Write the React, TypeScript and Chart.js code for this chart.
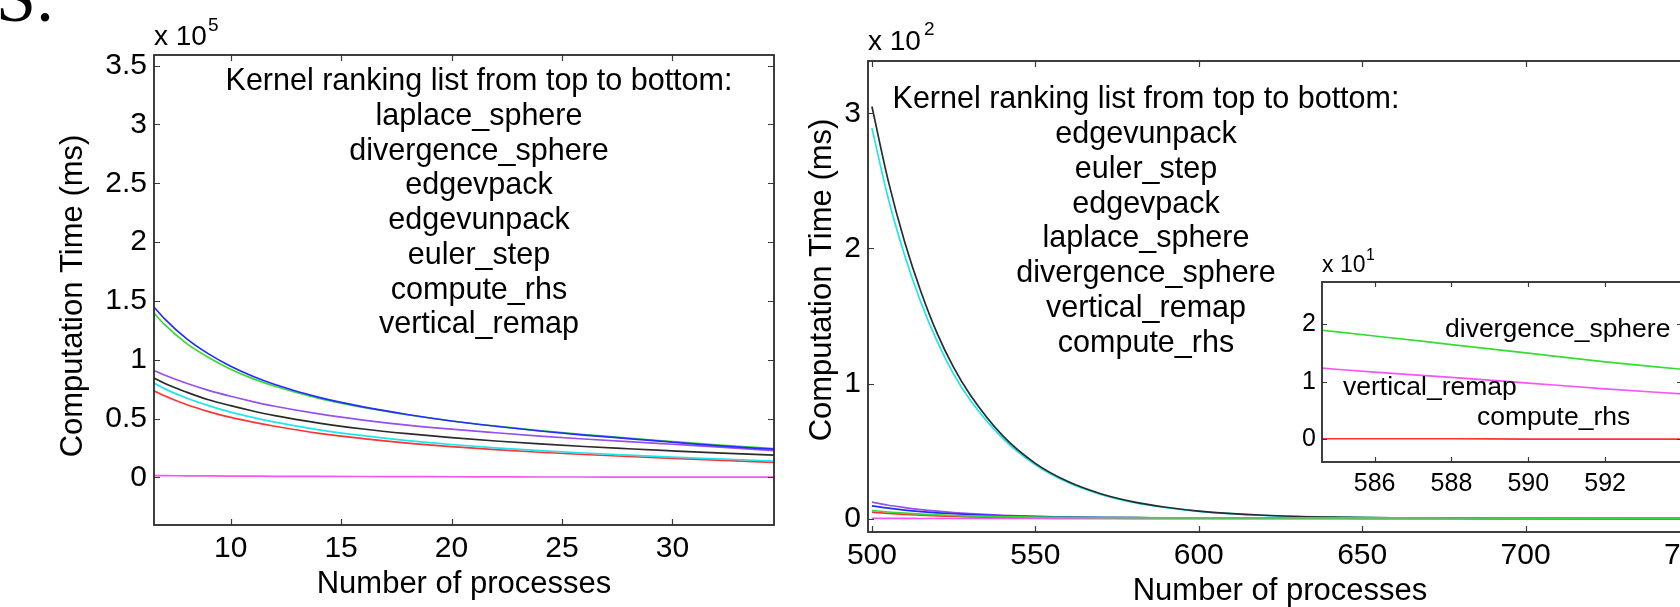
import React, { useEffect, useRef } from 'react';
import { Chart, registerables } from 'chart.js';
Chart.register(...registerables);

const SANS = '"Liberation Sans", Arial, Helvetica, sans-serif';
const SERIF = '"Liberation Serif", "DejaVu Serif", serif';

// ---------------- Left panel (values in units of 10^5 ms) ----------------
const leftX = [6.53, 7, 8, 9, 10, 11, 12, 14, 16, 18, 20, 22, 24, 26, 28, 30, 32, 34.6];
const leftBlue = [1.448, 1.35, 1.18, 1.05, 0.945, 0.86, 0.79, 0.68, 0.60, 0.535, 0.48, 0.435, 0.395, 0.36, 0.33, 0.30, 0.27, 0.24];
const leftGreen = [1.397, 1.30, 1.14, 1.02, 0.92, 0.84, 0.775, 0.672, 0.595, 0.533, 0.48, 0.437, 0.398, 0.365, 0.335, 0.305, 0.277, 0.246];
const leftPurple = [0.909, 0.87, 0.80, 0.74, 0.69, 0.645, 0.605, 0.54, 0.488, 0.445, 0.41, 0.38, 0.352, 0.327, 0.304, 0.282, 0.26, 0.228];
const leftBlack = [0.845, 0.80, 0.725, 0.66, 0.61, 0.565, 0.525, 0.462, 0.412, 0.372, 0.338, 0.31, 0.285, 0.263, 0.244, 0.226, 0.209, 0.19];
const leftCyan = [0.802, 0.755, 0.675, 0.61, 0.555, 0.51, 0.47, 0.405, 0.355, 0.313, 0.28, 0.252, 0.228, 0.208, 0.19, 0.173, 0.158, 0.14];
const leftRed = [0.737, 0.695, 0.62, 0.56, 0.51, 0.47, 0.435, 0.375, 0.33, 0.292, 0.262, 0.236, 0.214, 0.195, 0.178, 0.162, 0.147, 0.128];
const leftMagenta = [0.015, 0.015, 0.014, 0.013, 0.012, 0.011, 0.010, 0.009, 0.008, 0.007, 0.006, 0.005, 0.004, 0.004, 0.003, 0.003, 0.002, 0.002];
const leftXTicks = [10, 15, 20, 25, 30];
const leftYTicks = [0, 0.5, 1, 1.5, 2, 2.5, 3, 3.5];
const leftRanking = [
  'Kernel ranking list from top to bottom:',
  'laplace_sphere',
  'divergence_sphere',
  'edgevpack',
  'edgevunpack',
  'euler_step',
  'compute_rhs',
  'vertical_remap',
];

// ---------------- Right panel (values in units of 10^2 ms) ----------------
const rightX = [500, 505, 510, 515, 520, 525, 530, 540, 550, 560, 570, 580, 590, 600, 620, 640, 660, 700, 750];
const rightBlack = [3.05, 2.50, 2.05, 1.68, 1.37, 1.12, 0.92, 0.615, 0.41, 0.275, 0.185, 0.125, 0.085, 0.057, 0.026, 0.012, 0.006, 0.002, 0.0];
const rightCyan = [2.89, 2.37, 1.95, 1.60, 1.31, 1.07, 0.88, 0.595, 0.40, 0.268, 0.18, 0.12, 0.082, 0.055, 0.025, 0.012, 0.006, 0.002, 0.0];
const rightPurple = [0.123, 0.100, 0.083, 0.068, 0.056, 0.046, 0.038, 0.026, 0.018, 0.013, 0.010, 0.008, 0.007, 0.006, 0.005, 0.004, 0.004, 0.003, 0.003];
const rightBlue = [0.095, 0.078, 0.064, 0.053, 0.044, 0.037, 0.031, 0.022, 0.016, 0.012, 0.009, 0.008, 0.007, 0.006, 0.005, 0.005, 0.004, 0.004, 0.003];
const rightGreen = [0.061, 0.050, 0.041, 0.034, 0.029, 0.024, 0.021, 0.016, 0.012, 0.010, 0.009, 0.008, 0.007, 0.007, 0.006, 0.006, 0.006, 0.005, 0.005];
const rightRed = [0.049, 0.040, 0.032, 0.026, 0.021, 0.017, 0.014, 0.010, 0.007, 0.005, 0.004, 0.003, 0.003, 0.002, 0.002, 0.002, 0.001, 0.001, 0.001];
const rightMagenta = [0.003, 0.003, 0.003, 0.002, 0.002, 0.002, 0.002, 0.002, 0.002, 0.001, 0.001, 0.001, 0.001, 0.001, 0.001, 0.001, 0.001, 0.001, 0.001];
const rightXTicks = [500, 550, 600, 650, 700, 750];
const rightYTicks = [0, 1, 2, 3];
const rightRanking = [
  'Kernel ranking list from top to bottom:',
  'edgevunpack',
  'euler_step',
  'edgevpack',
  'laplace_sphere',
  'divergence_sphere',
  'vertical_remap',
  'compute_rhs',
];

// ---------------- Inset (values in units of 10^1) ----------------
const insetX = [584.63, 586, 588, 590, 592, 594];
const insetGreen = [1.90, 1.80, 1.65, 1.50, 1.35, 1.22];
const insetMagenta = [1.24, 1.17, 1.08, 0.98, 0.88, 0.79];
const insetRed = [0.01, 0.01, 0.01, 0.005, 0.005, 0.005];
const insetXTicks = [586, 588, 590, 592];
const insetYTicks = [0, 1, 2];
const insetLabels = ['divergence_sphere', 'vertical_remap', 'compute_rhs'];

const yTitle = 'Computation Time (ms)';
const xTitle = 'Number of processes';

const C = {
  blue: '#2a2aff',
  green: '#33dd33',
  purple: '#9650ec',
  black: '#2b2b2b',
  cyan: '#1ee6ee',
  red: '#ff3333',
  magenta: '#f455f4',
};

type TextItem = {
  text: string;
  x: number;
  y: number;
  size: number;
  align?: CanvasTextAlign;
  rotate?: boolean;
  family?: string;
};

type Spec = {
  W: number;
  H: number;
  area: { left: number; top: number; right: number; bottom: number };
  xMin: number;
  xMax: number;
  yMin: number;
  yMax: number;
  xTicks: number[];
  yTicks: number[];
  xs: number[];
  series: { values: number[]; color: string }[];
  tickSize: number;
  padX: number;
  padY: number;
  tickLen: number;
  fillArea: boolean;
  texts: TextItem[];
};

function boxPlugin(spec: Spec) {
  return {
    id: 'matlabBox',
    beforeDatasetsDraw(chart: any) {
      if (!spec.fillArea) return;
      const a = chart.chartArea;
      const ctx = chart.ctx;
      ctx.save();
      ctx.fillStyle = '#ffffff';
      ctx.fillRect(a.left, a.top, a.right - a.left, a.bottom - a.top);
      ctx.restore();
    },
    afterDatasetsDraw(chart: any) {
      const { ctx, chartArea: a, scales } = chart;
      const L = spec.tickLen;
      ctx.save();
      ctx.strokeStyle = '#3a3a3a';
      ctx.lineWidth = 1.2;
      ctx.beginPath();
      for (const t of scales.x.ticks) {
        const px = Math.round(scales.x.getPixelForValue(t.value)) + 0.5;
        if (px < a.left || px > a.right) continue;
        ctx.moveTo(px, a.bottom);
        ctx.lineTo(px, a.bottom - L);
        ctx.moveTo(px, a.top);
        ctx.lineTo(px, a.top + L);
      }
      for (const t of scales.y.ticks) {
        const py = Math.round(scales.y.getPixelForValue(t.value)) + 0.5;
        if (py < a.top || py > a.bottom) continue;
        ctx.moveTo(a.left, py);
        ctx.lineTo(a.left + L, py);
        ctx.moveTo(a.right, py);
        ctx.lineTo(a.right - L, py);
      }
      ctx.stroke();
      ctx.strokeStyle = '#2a2a2a';
      ctx.lineWidth = 1.8;
      ctx.strokeRect(a.left, a.top, a.right - a.left, a.bottom - a.top);
      ctx.restore();
    },
    afterDraw(chart: any) {
      const ctx = chart.ctx;
      ctx.save();
      ctx.fillStyle = '#000000';
      for (const t of spec.texts) {
        ctx.font = `${t.size}px ${t.family || SANS}`;
        ctx.textAlign = t.align || 'left';
        ctx.textBaseline = 'alphabetic';
        if (t.rotate) {
          ctx.save();
          ctx.translate(t.x, t.y);
          ctx.rotate(-Math.PI / 2);
          ctx.fillText(t.text, 0, 0);
          ctx.restore();
        } else {
          ctx.fillText(t.text, t.x, t.y);
        }
      }
      ctx.restore();
    },
  };
}

function buildChart(canvas: HTMLCanvasElement, spec: Spec) {
  const { W, H, area } = spec;
  const fmt = (v: any) => String(Math.round(Number(v) * 1000) / 1000);
  return new Chart(canvas, {
    type: 'line',
    data: {
      datasets: spec.series.map((s) => ({
        data: spec.xs.map((x, i) => ({ x, y: s.values[i] })),
        borderColor: s.color,
        backgroundColor: s.color,
        borderWidth: 1.7,
        pointRadius: 0,
        fill: false,
        cubicInterpolationMode: 'monotone' as const,
      })),
    },
    options: {
      responsive: false,
      maintainAspectRatio: false,
      animation: false,
      devicePixelRatio: 1,
      events: [],
      layout: { padding: { top: area.top, right: W - area.right, left: 0, bottom: 0 } },
      plugins: { legend: { display: false }, tooltip: { enabled: false } },
      scales: {
        x: {
          type: 'linear',
          min: spec.xMin,
          max: spec.xMax,
          afterBuildTicks: (s: any) => {
            s.ticks = spec.xTicks.map((v) => ({ value: v }));
          },
          afterFit: (s: any) => {
            s.height = H - area.bottom;
          },
          grid: { display: false, drawTicks: false },
          border: { display: false },
          ticks: {
            autoSkip: false,
            maxRotation: 0,
            padding: spec.padX,
            color: '#000',
            font: { family: SANS, size: spec.tickSize },
            callback: fmt,
          },
        },
        y: {
          type: 'linear',
          min: spec.yMin,
          max: spec.yMax,
          afterBuildTicks: (s: any) => {
            s.ticks = spec.yTicks.map((v) => ({ value: v }));
          },
          afterFit: (s: any) => {
            s.width = area.left;
          },
          grid: { display: false, drawTicks: false },
          border: { display: false },
          ticks: {
            autoSkip: false,
            padding: spec.padY,
            color: '#000',
            font: { family: SANS, size: spec.tickSize },
            callback: fmt,
          },
        },
      },
    } as any,
    plugins: [boxPlugin(spec)],
  });
}

const rankTexts = (lines: string[], cx: number, y0: number): TextItem[] =>
  lines.map((t, i) => ({ text: t, x: cx, y: y0 + i * 34.75, size: 30.5, align: 'center' as CanvasTextAlign }));

const leftSpec: Spec = {
  W: 1720,
  H: 607,
  area: { left: 154, top: 55, right: 774, bottom: 525 },
  xMin: 6.53,
  xMax: 34.6,
  yMin: -0.404,
  yMax: 3.59,
  xTicks: leftXTicks,
  yTicks: leftYTicks,
  xs: leftX,
  series: [
    { values: leftMagenta, color: C.magenta },
    { values: leftBlue, color: C.blue },
    { values: leftGreen, color: C.green },
    { values: leftPurple, color: C.purple },
    { values: leftBlack, color: C.black },
    { values: leftCyan, color: C.cyan },
    { values: leftRed, color: C.red },
  ],
  tickSize: 30,
  padX: 6,
  padY: 7,
  tickLen: 6,
  fillArea: false,
  texts: [
    { text: 'S.', x: -4, y: 21, size: 72, family: SERIF },
    { text: 'x 10', x: 154, y: 45, size: 28 },
    { text: '5', x: 208, y: 31, size: 19 },
    { text: yTitle, x: 82, y: 296, size: 31, align: 'center', rotate: true },
    { text: xTitle, x: 464, y: 593, size: 31, align: 'center' },
    ...rankTexts(leftRanking, 479, 90),
  ],
};

const rightSpec: Spec = {
  W: 1720,
  H: 607,
  area: { left: 868, top: 61, right: 1692, bottom: 532 },
  xMin: 498.8,
  xMax: 750,
  yMin: -0.098,
  yMax: 3.387,
  xTicks: rightXTicks,
  yTicks: rightYTicks,
  xs: rightX,
  series: [
    { values: rightGreen, color: C.green },
    { values: rightMagenta, color: C.magenta },
    { values: rightRed, color: C.red },
    { values: rightBlue, color: C.blue },
    { values: rightPurple, color: C.purple },
    { values: rightBlack, color: C.black },
    { values: rightCyan, color: C.cyan },
  ],
  tickSize: 30,
  padX: 6,
  padY: 7,
  tickLen: 6,
  fillArea: false,
  texts: [
    { text: 'x 10', x: 868, y: 50, size: 28 },
    { text: '2', x: 924, y: 35, size: 19 },
    { text: yTitle, x: 831, y: 280, size: 31, align: 'center', rotate: true },
    { text: xTitle, x: 1280, y: 600, size: 31, align: 'center' },
    ...rankTexts(rightRanking, 1146, 108.3),
  ],
};

const insetSpec: Spec = {
  W: 1720,
  H: 607,
  area: { left: 1322, top: 282, right: 1682, bottom: 462 },
  xMin: 584.63,
  xMax: 594.0,
  yMin: -0.395,
  yMax: 2.74,
  xTicks: insetXTicks,
  yTicks: insetYTicks,
  xs: insetX,
  series: [
    { values: insetGreen, color: C.green },
    { values: insetMagenta, color: C.magenta },
    { values: insetRed, color: C.red },
  ],
  tickSize: 25,
  padX: 7,
  padY: 6,
  tickLen: 5,
  fillArea: true,
  texts: [
    { text: 'x 10', x: 1322, y: 272, size: 23 },
    { text: '1', x: 1366, y: 260, size: 16 },
    { text: insetLabels[0], x: 1445, y: 337, size: 26.5 },
    { text: insetLabels[1], x: 1343, y: 395, size: 26.5 },
    { text: insetLabels[2], x: 1477, y: 425, size: 26.5 },
  ],
};

function ChartCanvas({ spec }: { spec: Spec }) {
  const ref = useRef<HTMLCanvasElement | null>(null);
  useEffect(() => {
    if (!ref.current) return;
    const chart = buildChart(ref.current, spec);
    return () => chart.destroy();
  }, [spec]);
  return (
    <canvas
      ref={ref}
      width={spec.W}
      height={spec.H}
      style={{ position: 'absolute', left: 0, top: 0, width: spec.W, height: spec.H }}
    />
  );
}

export default function App() {
  return (
    <div
      style={{
        position: 'fixed',
        left: 0,
        top: 0,
        width: 1680,
        height: 607,
        overflow: 'hidden',
        background: '#ffffff',
      }}
    >
      <div style={{ position: 'absolute', left: 0, top: 0, width: 1720, height: 607 }}>
        <ChartCanvas spec={leftSpec} />
        <ChartCanvas spec={rightSpec} />
        <ChartCanvas spec={insetSpec} />
      </div>
    </div>
  );
}
